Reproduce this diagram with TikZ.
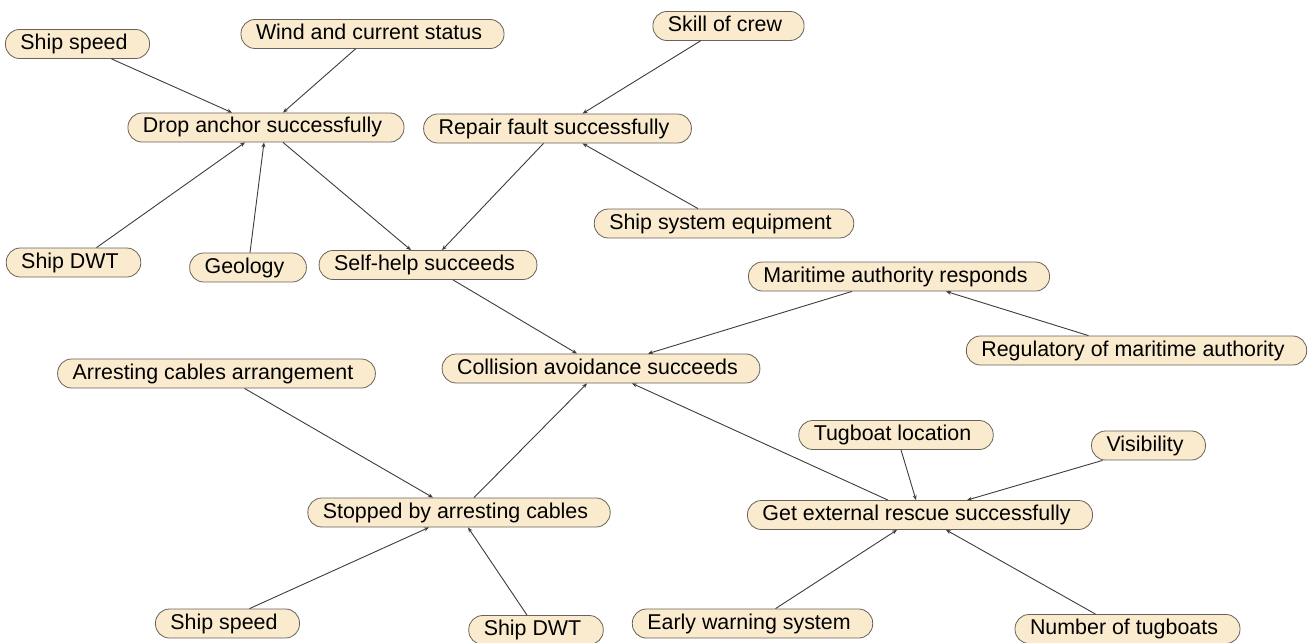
\documentclass[tikz,border=0pt]{standalone}
\usepackage{fontspec}
\setmainfont{Liberation Sans}
\usepackage{xcolor}
\usepackage{tikz}
\usetikzlibrary{arrows.meta}
\definecolor{boxfill}{RGB}{250,235,206}
\definecolor{boxline}{RGB}{105,98,88}
\definecolor{linkcol}{RGB}{60,60,60}
\tikzset{%
  factbox/.style={rectangle,rounded corners=7pt,fill=boxfill,draw=boxline,thin,inner xsep=7.5pt,inner ysep=2pt,text height=8pt,text depth=2.5pt,execute at end node={\hspace*{3.5pt}}}
}
\tikzset{%
  linkarr/.style={draw=linkcol,line width=0.45pt,-{Stealth[length=2.5pt,width=2pt]}}
}

\begin{document}
\begin{tikzpicture}[x=0.5pt,y=-0.5pt,font=\fontsize{10.7}{13}\selectfont]
            \useasboundingbox (0,0) rectangle (1309,642);
            \node[factbox](speeda) at (77.5,44){Ship speed};
            \node[factbox](wind) at (372.5,34){Wind and current status};
            \node[factbox](skill) at (728.5,26){Skill of crew};
            \node[factbox](drop) at (266,127.5){Drop anchor successfully};
            \node[factbox](repair) at (557.5,128.5){Repair fault successfully};
            \node[factbox](sysequip) at (724,223.5){Ship system equipment};
            \node[factbox](dwta) at (73.5,262.5){Ship DWT};
            \node[factbox](geology) at (248,267.5){Geology};
            \node[factbox](selfhelp) at (428,265){Self-help succeeds};
            \node[factbox](maritime) at (899,276.5){Maritime authority responds};
            \node[factbox](regulatory) at (1136.5,350.5){Regulatory of maritime authority};
            \node[factbox](arrange) at (216.5,373.5){Arresting cables arrangement};
            \node[factbox](collision) at (601,368.5){Collision avoidance succeeds};
            \node[factbox](tugloc) at (896,435){Tugboat location};
            \node[factbox](visibility) at (1148.5,445.5){Visibility};
            \node[factbox](stopped) at (459,512.5){Stopped by arresting cables};
            \node[factbox](rescue) at (920,515){Get external rescue successfully};
            \node[factbox](speedb) at (227.5,623.5){Ship speed};
            \node[factbox](dwtb) at (536,630){Ship DWT};
            \node[factbox](warning) at (752.5,623.5){Early warning system};
            \node[factbox](tugnum) at (1127.5,629){Number of tugboats};

            \draw[linkarr] ([xshift=17pt]speeda.south) -- ([xshift=-17pt]drop.north);
            \draw[linkarr] ([xshift=-8.5pt]wind.south) -- ([xshift=8.5pt]drop.north);
            \draw[linkarr] ([xshift=11.5pt]dwta.north) -- ([xshift=-10.5pt]drop.south);
            \draw[linkarr] ([xshift=1pt]geology.north) -- ([xshift=-1pt]drop.south);
            \draw[linkarr] ([xshift=8.5pt]drop.south) -- ([xshift=-8.5pt]selfhelp.north);
            \draw[linkarr] ([xshift=-14pt]skill.south) -- ([xshift=12.5pt]repair.north);
            \draw[linkarr] ([xshift=-13pt]sysequip.north) -- ([xshift=12.5pt]repair.south);
            \draw[linkarr] ([xshift=-7pt]repair.south) -- ([xshift=7pt]selfhelp.north);
            \draw[linkarr] ([xshift=12.5pt]selfhelp.south) -- ([xshift=-12pt]collision.north);
            \draw[linkarr] ([xshift=-23.5pt]maritime.south) -- ([xshift=23.5pt]collision.north);
            \draw[linkarr] ([xshift=-24pt]regulatory.north) -- ([xshift=23.5pt]maritime.south);
            \draw[linkarr] ([xshift=14pt]arrange.south) -- ([xshift=-13pt]stopped.north);
            \draw[linkarr] ([xshift=7.5pt]stopped.north) -- ([xshift=-7pt]collision.south);
            \draw[linkarr] ([xshift=-16pt]rescue.north) -- ([xshift=15.5pt]collision.south);
            \draw[linkarr] ([xshift=2.5pt]tugloc.south) -- ([xshift=-2pt]rescue.north);
            \draw[linkarr] ([xshift=-23pt]visibility.south) -- ([xshift=23.5pt]rescue.north);
            \draw[linkarr] ([xshift=11pt]speedb.north) -- ([xshift=-15pt]stopped.south);
            \draw[linkarr] ([xshift=-4.5pt]dwtb.north) -- ([xshift=4.5pt]stopped.south);
            \draw[linkarr] ([xshift=11.5pt]warning.north) -- ([xshift=-11.5pt]rescue.south);
            \draw[linkarr] ([xshift=-16pt]tugnum.north) -- ([xshift=13pt]rescue.south);
        \end{tikzpicture}
\end{document}
